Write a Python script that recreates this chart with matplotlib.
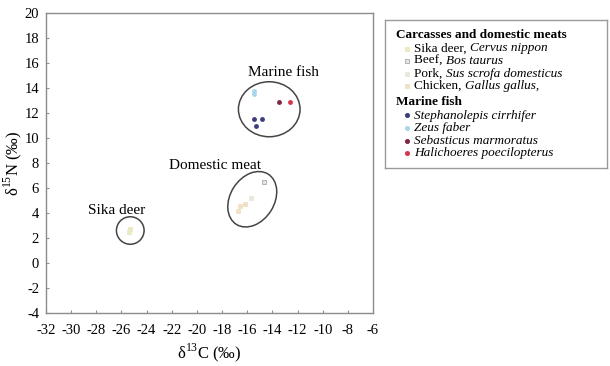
import matplotlib
matplotlib.use("Agg")
import matplotlib.pyplot as plt
from matplotlib.patches import Ellipse

plt.rcParams['font.family'] = ['Liberation Serif', 'DejaVu Serif']
plt.rcParams['mathtext.fontset'] = 'custom'
plt.rcParams['mathtext.rm'] = 'Liberation Serif'
plt.rcParams['axes.unicode_minus'] = False

# d13C / d15N values (per mil)
sika_c = [-25.4, -25.3]
sika_n = [2.5, 2.7]
beef_c = [-14.7]
beef_n = [6.5]
pork_c = [-15.7]
pork_n = [5.2]
chicken_c = [-16.6, -16.2, -16.7]
chicken_n = [4.6, 4.7, 4.2]

steph_c = [-15.5, -14.8, -15.3]
steph_n = [11.5, 11.5, 11.0]
zeus_c = [-15.5, -15.5]
zeus_n = [13.8, 13.5]
sebast_c = [-13.5]
sebast_n = [12.9]
hali_c = [-12.6]
hali_n = [12.9]

xticks = list(range(-32, -5, 2))
yticks = list(range(-4, 21, 2))

fig = plt.figure(figsize=(6.1, 3.66), dpi=100)
ax = fig.add_axes([46/610, 53/366, 327/610, 300/366])

sq = dict(marker='s', ms=3.5, ls='none', mew=0.6)
dot = dict(marker='o', ms=3.5, ls='none', mew=0)
ax.plot(sika_c, sika_n, color='#ebe9c0', mec='#ebe9c0', **sq)
ax.plot(beef_c, beef_n, color='#e6e6e6', mec='#a8a8a8', **sq)
ax.plot(pork_c, pork_n, color='#ebe7df', mec='#ebe7df', **sq)
ax.plot(chicken_c, chicken_n, color='#f0e0c6', mec='#f0e0c6', **sq)
ax.plot(steph_c, steph_n, color='#3d3d7d', **dot)
ax.plot(zeus_c, zeus_n, color='#a8d6ea', **dot)
ax.plot(sebast_c, sebast_n, color='#7d2645', **dot)
ax.plot(hali_c, hali_n, color='#d8364e', **dot)

# group outlines
ax.add_patch(Ellipse((-14.25, 12.3), 4.9, 4.4, fill=False, ec='#454545', lw=1.1))
ax.add_patch(Ellipse((-15.6, 5.1), 4.75, 3.5, angle=58, fill=False, ec='#454545', lw=1.1))
ax.add_patch(Ellipse((-25.3, 2.6), 2.2, 2.2, fill=False, ec='#454545', lw=1.1))

ax.text(-13.1, 15.2, 'Marine fish', ha='center', va='center', fontsize=11)
ax.text(-18.6, 7.8, 'Domestic meat', ha='center', va='center', fontsize=11)
ax.text(-26.4, 4.2, 'Sika deer', ha='center', va='center', fontsize=11)

ax.set_xlim(-32, -6)
ax.set_ylim(-4, 20)
ax.set_xticks(xticks)
ax.set_yticks(yticks)
ax.tick_params(direction='in', length=2.5, width=0.8, color='#909090',
               labelsize=10.5)
ax.tick_params(axis='x', pad=8)
ax.tick_params(axis='y', pad=5)
for s in ax.spines.values():
    s.set_color('#8c8c8c')
    s.set_linewidth(1.0)
ax.set_xlabel(r'δ$^{13}$C (‰)', fontsize=12, labelpad=3)
ax.set_ylabel(r'δ$^{15}$N (‰)', fontsize=12, labelpad=0)

# legend panel
lg = fig.add_axes([385/610, (366-168)/366, 222/610, 148/366])
lg.set_xlim(0, 222)
lg.set_ylim(148, 0)
lg.set_xticks([])
lg.set_yticks([])
for s in lg.spines.values():
    s.set_color('#9a9a9a')
    s.set_linewidth(1.0)

groups = [
    ('Carcasses and domestic meats', [
        ('Sika deer, ', 'Cervus nippon', '#ebe9c0', '#ebe9c0', 's'),
        ('Beef, ', 'Bos taurus', '#e6e6e6', '#a8a8a8', 's'),
        ('Pork, ', 'Sus scrofa domesticus', '#ebe7df', '#ebe7df', 's'),
        ('Chicken, ', 'Gallus gallus,', '#f0e0c6', '#f0e0c6', 's'),
    ]),
    ('Marine fish', [
        ('', 'Stephanolepis cirrhifer', '#3d3d7d', '#3d3d7d', 'o'),
        ('', 'Zeus faber', '#a8d6ea', '#a8d6ea', 'o'),
        ('', 'Sebasticus marmoratus', '#7d2645', '#7d2645', 'o'),
        ('', 'Halichoeres poecilopterus', '#d8364e', '#d8364e', 'o'),
    ]),
]
y = 15
for title, items in groups:
    lg.text(11, y, title, fontsize=9.5, fontweight='bold', va='center')
    y += 13.5
    for plain, ital, fc, ec, mk in items:
        lg.plot([22], [y], marker=mk, ms=3, color=fc, mec=ec, mew=0.6, ls='none')
        x0 = 29
        if plain:
            t = lg.text(x0, y, plain, fontsize=9.5, va='center')
            fig.canvas.draw()
            bb = t.get_window_extent()
            x0 = lg.transData.inverted().transform((bb.x1, bb.y0))[0]
        lg.text(x0, y, ital, fontsize=9.5, style='italic', va='center')
        y += 12.5
    y += 3.5

fig.savefig('out.png', dpi=100)
